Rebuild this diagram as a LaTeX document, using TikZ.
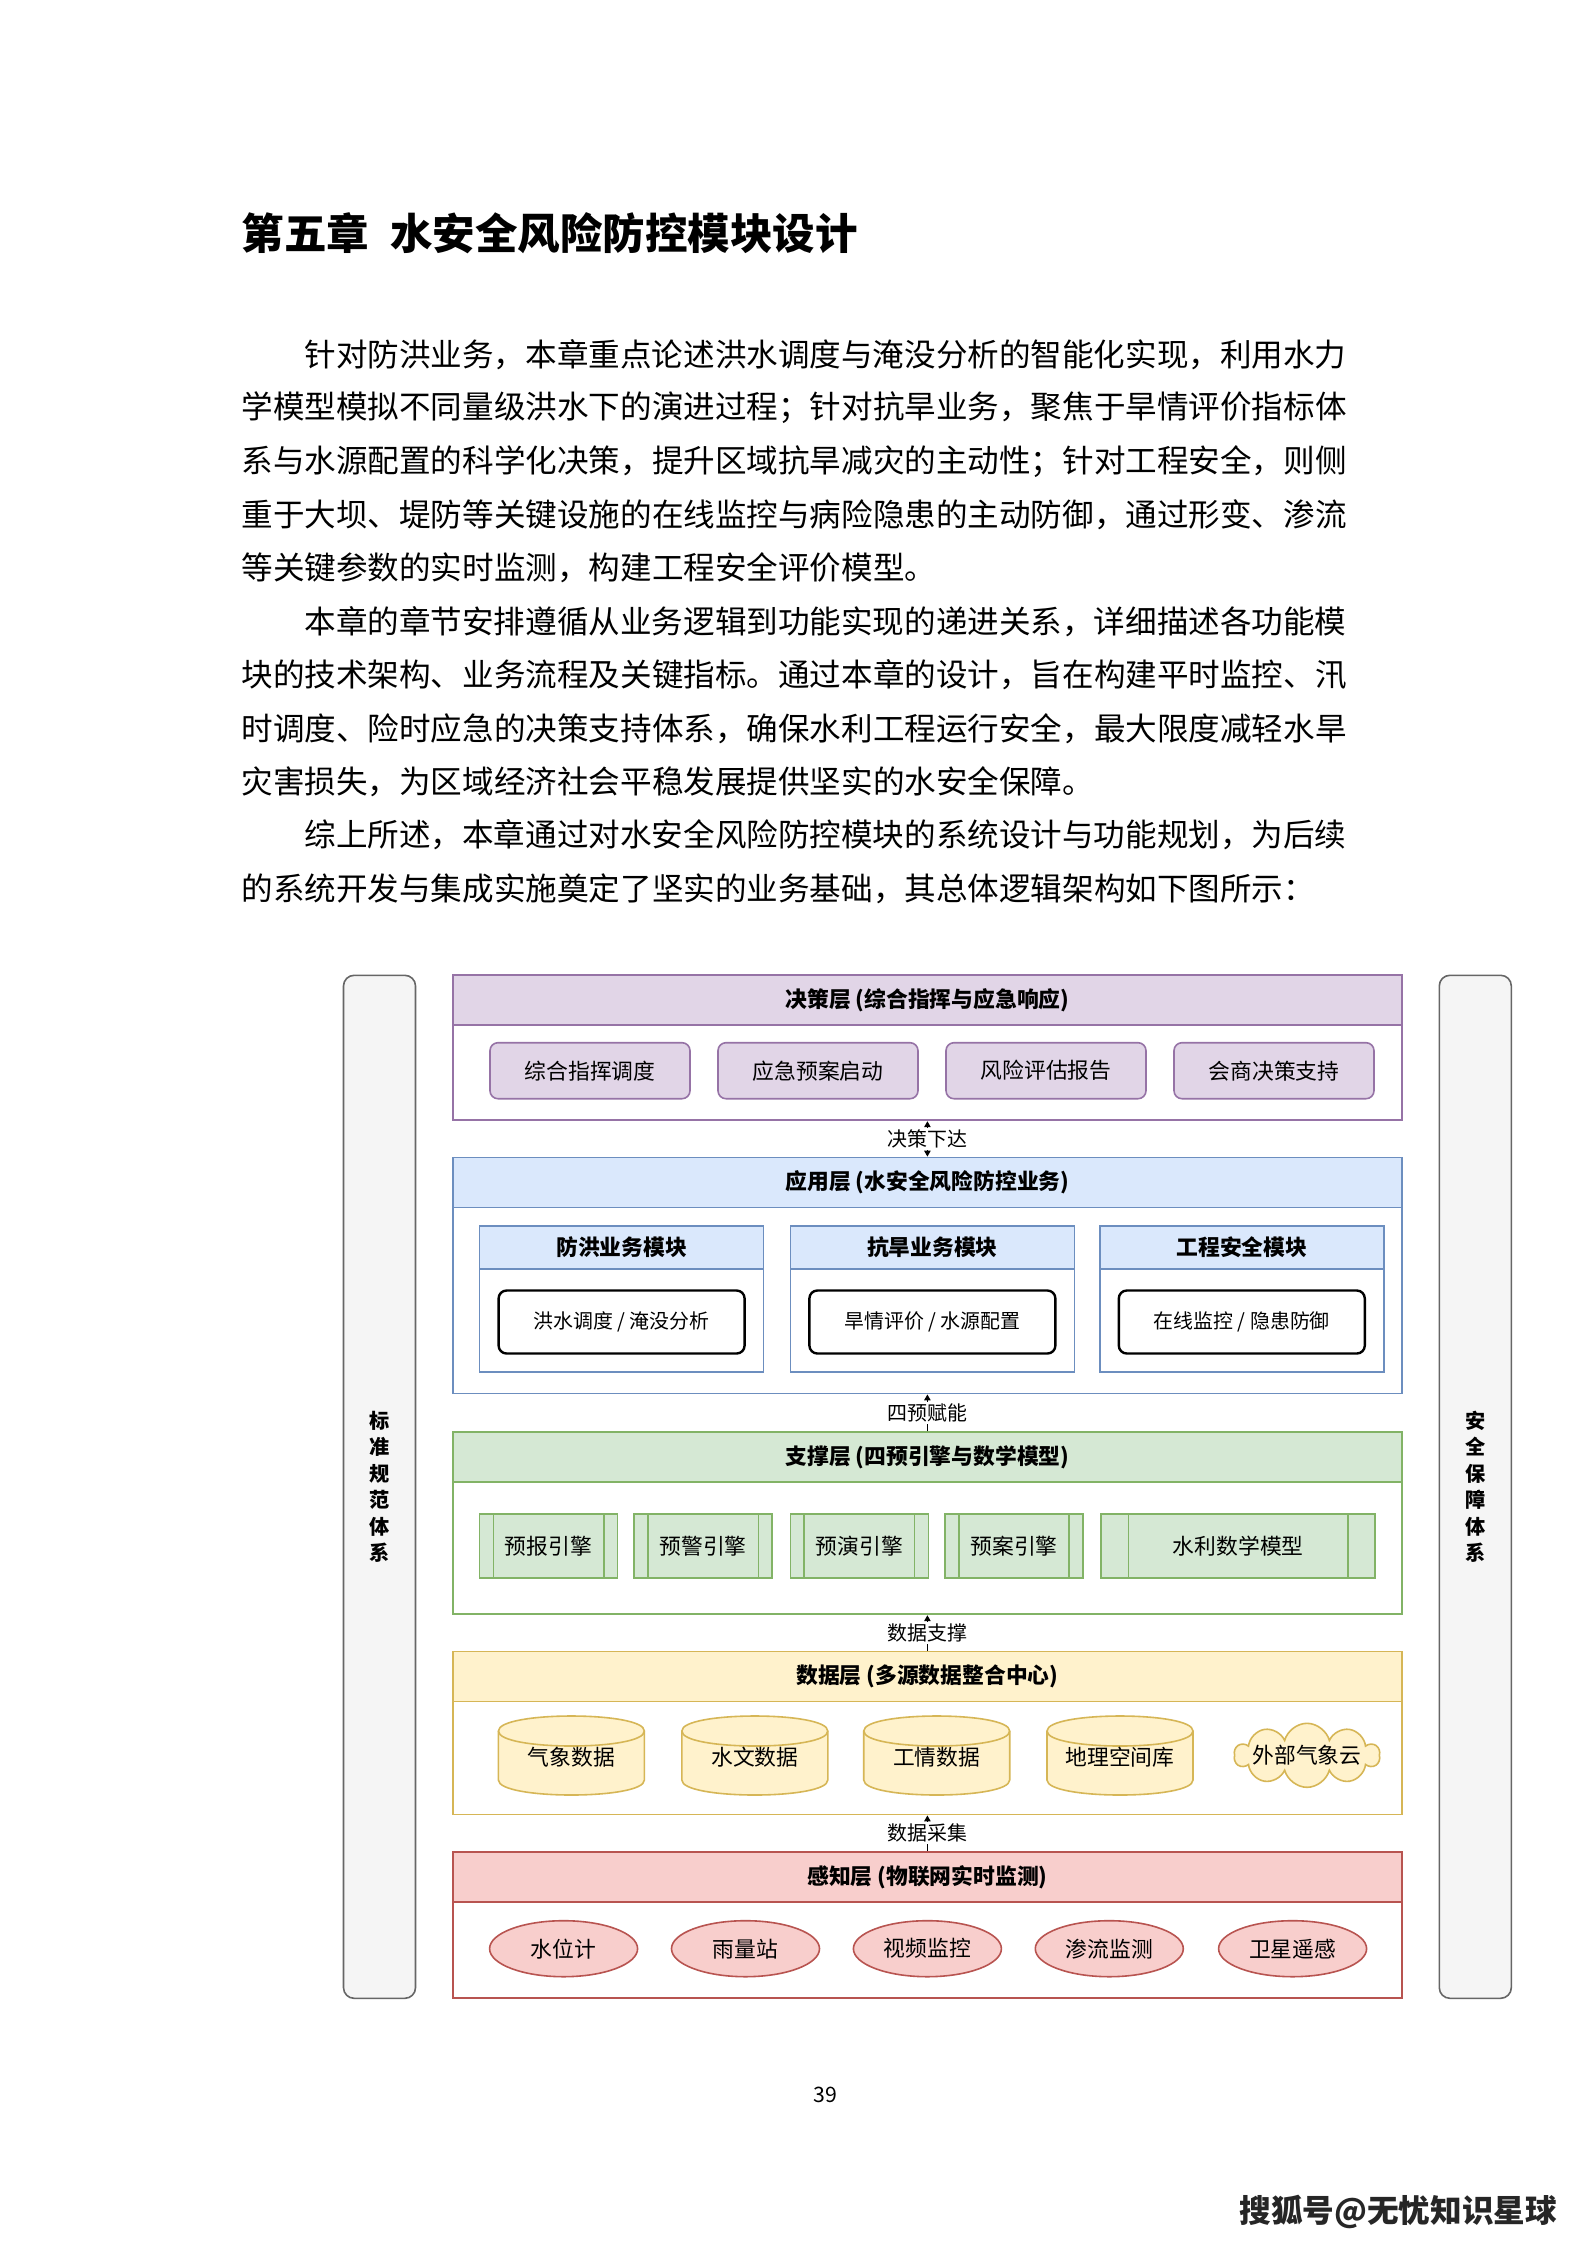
\documentclass[tikz,border=0pt]{standalone}
\usepackage{fontspec}
\setmainfont{Noto Sans CJK SC}
\usetikzlibrary{arrows.meta,calc,positioning,shapes.geometric,shapes.symbols}
\newdimen\pxu
\pxu=0.1323mm
\definecolor{jcline}{HTML}{9673A6}
\definecolor{jcfill}{HTML}{E1D5E7}
\definecolor{yyline}{HTML}{6C8EBF}
\definecolor{yyfill}{HTML}{DAE8FC}
\definecolor{zcline}{HTML}{82B366}
\definecolor{zcfill}{HTML}{D5E8D4}
\definecolor{sjline}{HTML}{D6B656}
\definecolor{sjfill}{HTML}{FFF2CC}
\definecolor{gzline}{HTML}{B85450}
\definecolor{gzfill}{HTML}{F8CECC}
\definecolor{sideline}{HTML}{666666}
\definecolor{sidefill}{HTML}{F5F5F5}
\newcommand\bodyfont{\fontsize{11.885}{14}\selectfont}
\newcommand\labfont{\fontsize{8.2}{10}\selectfont}
\newcommand\tinyfont{\fontsize{7.5}{9}\selectfont}
\tikzset{txt/.style={anchor=west,inner sep=0pt,font=\bodyfont},
  layer/.style={draw=#1line,line width=0.7pt,minimum width=949*\pxu,inner sep=0pt},
  head/.style={draw=#1line,fill=#1fill,line width=0.7pt,minimum width=949*\pxu,minimum height=50*\pxu,
    inner sep=0pt,anchor=north,font=\labfont\bfseries},
  cmdbox/.style={draw=jcline,fill=jcfill,line width=0.6pt,rounded corners=3pt,minimum width=200*\pxu,
    minimum height=56*\pxu,inner sep=0pt,font=\labfont},
  modbox/.style={draw=yyline,line width=0.6pt,minimum width=284*\pxu,minimum height=146*\pxu,inner sep=0pt},
  modhead/.style={draw=yyline,fill=yyfill,line width=0.6pt,minimum width=284*\pxu,minimum height=43*\pxu,
    inner sep=0pt,anchor=north,font=\labfont\bfseries},
  bizbox/.style={draw=black,fill=white,line width=0.9pt,rounded corners=3pt,minimum width=246*\pxu,
    minimum height=63*\pxu,inner sep=0pt,font=\tinyfont},
  engine/.style={draw=zcline,fill=zcfill,line width=0.6pt,minimum height=64*\pxu,inner sep=0pt,font=\labfont,
    path picture={\foreach \f in {0.1,0.9}
      \draw[zcline,line width=0.6pt] ($(path picture bounding box.north west)!\f!(path picture bounding box.north east)$)
        -- ($(path picture bounding box.south west)!\f!(path picture bounding box.south east)$);}},
  sensor/.style={ellipse,draw=gzline,fill=gzfill,line width=0.6pt,minimum width=148*\pxu,minimum height=56*\pxu,
    inner sep=0pt,font=\labfont},
  sidebar/.style={draw=sideline,fill=sidefill,line width=0.6pt,rounded corners=4pt,minimum width=72*\pxu,
    minimum height=1023*\pxu,inner sep=0pt,align=center,font=\fontsize{7.6}{10}\selectfont\bfseries},
  link/.style={-{Triangle[length=2.2pt,width=2.4pt]},line width=0.4pt},
  twolink/.style={{Triangle[length=2.2pt,width=2.4pt]}-{Triangle[length=2.2pt,width=2.4pt]},line width=0.4pt},
  tag/.style={fill=white,inner sep=0.6pt,font=\tinyfont}}
\begin{document}
\begin{tikzpicture}[x=0.1323mm,y=-0.1323mm]
\useasboundingbox (0,0) rectangle (1587,2245);
\fill[white] (0,0) rectangle (1587,2245);

% chapter title and text
\node[anchor=west,inner sep=0pt,font=\fontsize{16}{19}\selectfont\bfseries] (title) at (241,233) {第五章\hspace{0.5em}水安全风险防控模块设计};
\node[txt] (l1) at (304,354.5) {针对防洪业务，本章重点论述洪水调度与淹没分析的智能化实现，利用水力};
\node[txt] (l2) at (241,407.9) {学模型模拟不同量级洪水下的演进过程；针对抗旱业务，聚焦于旱情评价指标体};
\node[txt] (l3) at (241,461.3) {系与水源配置的科学化决策，提升区域抗旱减灾的主动性；针对工程安全，则侧};
\node[txt] (l4) at (241,514.7) {重于大坝、堤防等关键设施的在线监控与病险隐患的主动防御，通过形变、渗流};
\node[txt] (l5) at (241,568.1) {等关键参数的实时监测，构建工程安全评价模型。};
\node[txt] (l6) at (304,621.5) {本章的章节安排遵循从业务逻辑到功能实现的递进关系，详细描述各功能模};
\node[txt] (l7) at (241,674.9) {块的技术架构、业务流程及关键指标。通过本章的设计，旨在构建平时监控、汛};
\node[txt] (l8) at (241,728.3) {时调度、险时应急的决策支持体系，确保水利工程运行安全，最大限度减轻水旱};
\node[txt] (l9) at (241,781.7) {灾害损失，为区域经济社会平稳发展提供坚实的水安全保障。};
\node[txt] (l10) at (304,835.1) {综上所述，本章通过对水安全风险防控模块的系统设计与功能规划，为后续};
\node[txt] (l11) at (241,888.5) {的系统开发与集成实施奠定了坚实的业务基础，其总体逻辑架构如下图所示：};

% side systems
\node[sidebar] (bz) at (379.5,1486.8) {标\\准\\规\\范\\体\\系};
\node[sidebar] (aq) at (1475.3,1486.8) {安\\全\\保\\障\\体\\系};

% decision layer
\node[layer=jc,minimum height=145*\pxu] (jc) at (927.4,1047.8) {};
\node[head=jc] (jch) at (jc.north) {决策层 (综合指挥与应急响应)};
\foreach \cx/\nm/\txt in {590/zhzh/综合指挥调度,818/yjya/应急预案启动,1046/fxpg/风险评估报告,1274/hsjc/会商决策支持}
  \node[cmdbox] (\nm) at (\cx,1070.7) {\txt};

% application layer
\node[layer=yy,minimum height=236*\pxu] (yy) at (927.4,1275.5) {};
\node[head=yy] (yyh) at (yy.north) {应用层 (水安全风险防控业务)};
\foreach \cx/\nm/\ttl/\txt in {621.6/fh/防洪业务模块/{洪水调度 / 淹没分析},932.4/kh/抗旱业务模块/{旱情评价 / 水源配置},1241.8/gc/工程安全模块/{在线监控 / 隐患防御}}{
  \node[modbox] (\nm) at (\cx,1299) {};
  \node[modhead] (\nm h) at (\nm.north) {\ttl};
  \node[bizbox] (\nm b) at (\cx,1322) {\txt};
}

% support layer
\node[layer=zc,minimum height=182*\pxu] (zc) at (927.4,1523.3) {};
\node[head=zc] (zch) at (zc.north) {支撑层 (四预引擎与数学模型)};
\foreach \cx/\nm/\txt in {548.5/yb/预报引擎,703.2/yj/预警引擎,859.3/yy2/预演引擎,1014/ya/预案引擎}
  \node[engine,minimum width=138*\pxu] (\nm) at (\cx,1546) {\txt};
\node[engine,minimum width=274*\pxu] (slmx) at (1238.2,1546) {水利数学模型};

% data layer
\node[layer=sj,minimum height=163*\pxu] (sj) at (927.4,1733) {};
\node[head=sj] (sjh) at (sj.north) {数据层 (多源数据整合中心)};
\foreach \cx/\nm/\txt in {571.4/qx/气象数据,754.8/sw/水文数据,936.7/gq/工情数据,1120/dl/地理空间库}{
  \filldraw[draw=sjline,fill=sjfill,line width=0.6pt] ({\cx-73},1731) -- ({\cx-73},1780)
    .. controls ({\cx-73},1800) and ({\cx+73},1800) .. ({\cx+73},1780) -- ({\cx+73},1731)
    .. controls ({\cx+73},1711) and ({\cx-73},1711) .. ({\cx-73},1731) -- cycle;
  \draw[sjline,line width=0.6pt] ({\cx-73},1731) .. controls ({\cx-73},1751) and ({\cx+73},1751) .. ({\cx+73},1731);
  \node[font=\labfont,inner sep=0pt] (\nm) at (\cx,1757) {\txt};
}
\node[cloud,cloud puffs=10,aspect=2.2,draw=sjline,fill=sjfill,line width=0.6pt,
  minimum width=145*\pxu,minimum height=64*\pxu,inner sep=0pt] (wbq) at (1307,1755.3) {};
\node[font=\labfont,inner sep=0pt] (wbqt) at (wbq.center) {外部气象云};

% perception layer
\node[layer=gz,minimum height=146*\pxu] (gz) at (927.4,1925) {};
\node[head=gz] (gzh) at (gz.north) {感知层 (物联网实时监测)};
\foreach \cx/\nm/\txt in {563.6/swj/水位计,745.5/ylz/雨量站,927.4/spjk/视频监控,1109.3/sljc/渗流监测,1292.6/wxyg/卫星遥感}
  \node[sensor] (\nm) at (\cx,1948.7) {\txt};

% links between layers
\draw[twolink] (yy.north) -- node[tag] (t1) {决策下达} (jc.south);
\draw[link] (zc.north) -- node[tag] (t2) {四预赋能} (yy.south);
\draw[link] (sj.north) -- node[tag] (t3) {数据支撑} (zc.south);
\draw[link] (gz.north) -- node[tag] (t4) {数据采集} (sj.south);

% page foot
\node[font=\fontsize{8}{10}\selectfont,inner sep=0pt] (pg) at (825,2095) {39};
\node[anchor=west,inner sep=0pt,text=black!85,font=\fontsize{11.9}{14}\selectfont\bfseries] (sohu) at (1239,2212) {搜狐号@无忧知识星球};
\end{tikzpicture}
\end{document}
